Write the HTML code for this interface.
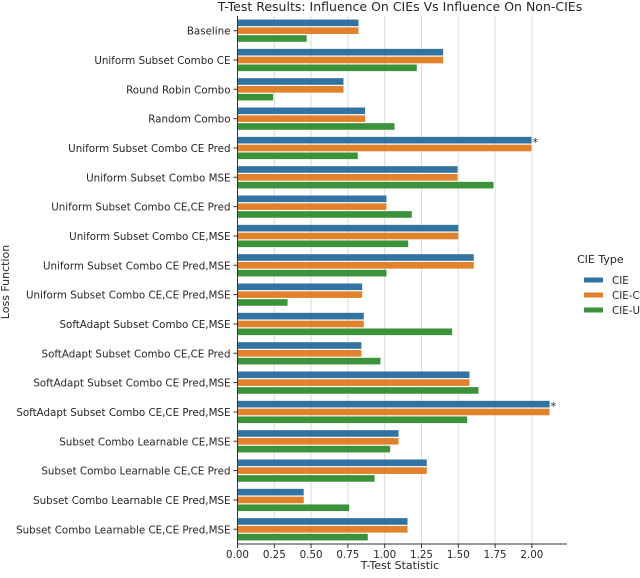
<!DOCTYPE html>
<html><head><meta charset="utf-8"><style>
body{margin:0;background:#fff;font-family:"Liberation Sans","DejaVu Sans",sans-serif}
svg text{font-family:"DejaVu Sans","Liberation Sans",sans-serif;fill:#262626}
</style></head><body>
<svg id="c" width="640" height="573" xmlns="http://www.w3.org/2000/svg"></svg>
<script>
const categories=["Baseline","Uniform Subset Combo CE","Round Robin Combo","Random Combo","Uniform Subset Combo CE Pred","Uniform Subset Combo MSE","Uniform Subset Combo CE,CE Pred","Uniform Subset Combo CE,MSE","Uniform Subset Combo CE Pred,MSE","Uniform Subset Combo CE,CE Pred,MSE","SoftAdapt Subset Combo CE,MSE","SoftAdapt Subset Combo CE,CE Pred","SoftAdapt Subset Combo CE Pred,MSE","SoftAdapt Subset Combo CE,CE Pred,MSE","Subset Combo Learnable CE,MSE","Subset Combo Learnable CE,CE Pred","Subset Combo Learnable CE Pred,MSE","Subset Combo Learnable CE,CE Pred,MSE"];
const cieValues=[0.822,1.397,0.72,0.867,1.997,1.495,1.012,1.5,1.605,0.847,0.858,0.842,1.576,2.12,1.094,1.286,0.45,1.155];
const ciecValues=[0.822,1.397,0.72,0.867,1.997,1.495,1.012,1.5,1.605,0.847,0.858,0.842,1.576,2.12,1.094,1.286,0.45,1.155];
const cieuValues=[0.47,1.218,0.242,1.067,0.817,1.739,1.184,1.16,1.012,0.34,1.458,0.971,1.637,1.56,1.037,0.931,0.759,0.885];
const significant=[4,13];
const xTicks=[0,0.25,0.5,0.75,1,1.25,1.5,1.75,2];
const xTickLabels=["0.00","0.25","0.50","0.75","1.00","1.25","1.50","1.75","2.00"];
const seriesNames=["CIE","CIE-C","CIE-U"];
const colors=["#3274a1","#e1812c","#3a923a"];
const NS="http://www.w3.org/2000/svg";
const svg=document.getElementById('c');
const X0=237.5,XS=147.2,TOP=16,BAND=29.33;
const xs=v=>X0+v*XS;
const yc=i=>TOP+BAND*(i+0.5);
function mk(t,a,p){const e=document.createElementNS(NS,t);for(const k in a)e.setAttribute(k,a[k]);(p||svg).appendChild(e);return e;}
const bottom=TOP+BAND*categories.length;
xTicks.forEach((t,i)=>{
  const g=mk('line',{x1:xs(t),x2:xs(t),y1:TOP,y2:bottom,stroke:'#dcdcdc','stroke-width':1});
  
  
  const tk=mk('line',{x1:xs(t),x2:xs(t),y1:bottom,y2:bottom+4,stroke:'#333'});
  
  
  const tl=mk('text',{x:xs(t),y:bottom+14,'text-anchor':'middle','font-size':'10.3'});
  tl.textContent=xTickLabels[i];
  
  
});
const series=[cieValues,ciecValues,cieuValues];
const bh=BAND*0.8/3;
categories.forEach((c,i)=>{
  series.forEach((s,j)=>{
    const y=yc(i)-BAND*0.4+j*bh;
    const r=mk('rect',{x:X0,y:y+0.6,width:xs(s[i])-X0,height:bh-1.2,fill:colors[j]});
    
    
  });
  const tk=mk('line',{x1:X0-4,x2:X0,y1:yc(i),y2:yc(i),stroke:'#333'});
  
  
  const l=mk('text',{x:X0-7,y:yc(i)+4,'text-anchor':'end','font-size':'10.3'});
  l.textContent=c;
  
  
});
significant.forEach(i=>{
  const s=mk('text',{x:xs(cieValues[i])+1,y:yc(i)-BAND*0.4+bh+2,'font-size':'11'});
  s.textContent='*';
  
  
});
const ax=mk('line',{x1:X0,x2:X0,y1:TOP,y2:bottom,stroke:'#333','stroke-width':1});


const bx=mk('line',{x1:X0,x2:567,y1:bottom,y2:bottom,stroke:'#333','stroke-width':1});


const tt=mk('text',{x:400,y:11,'text-anchor':'middle','font-size':'12.5'});
tt.textContent='T-Test Results: Influence On CIEs Vs Influence On Non-CIEs';


const xt=mk('text',{x:400,y:569,'text-anchor':'middle','font-size':'11'});
xt.textContent='T-Test Statistic';


const yt=mk('text',{x:0,y:0,'text-anchor':'middle','font-size':'11',transform:'translate(9,282) rotate(-90)'});
yt.textContent='Loss Function';


const lt=mk('text',{x:577,y:263,'font-size':'11'});
lt.textContent='CIE Type';


seriesNames.forEach((n,j)=>{
  const y=280+j*15;
  const sw=mk('rect',{x:584,y:y-2.5,width:19,height:5,fill:colors[j]});
  
  
  const t=mk('text',{x:612,y:y+4,'font-size':'10.3'});
  t.textContent=n;
  
  
});
</script>
</body></html>
